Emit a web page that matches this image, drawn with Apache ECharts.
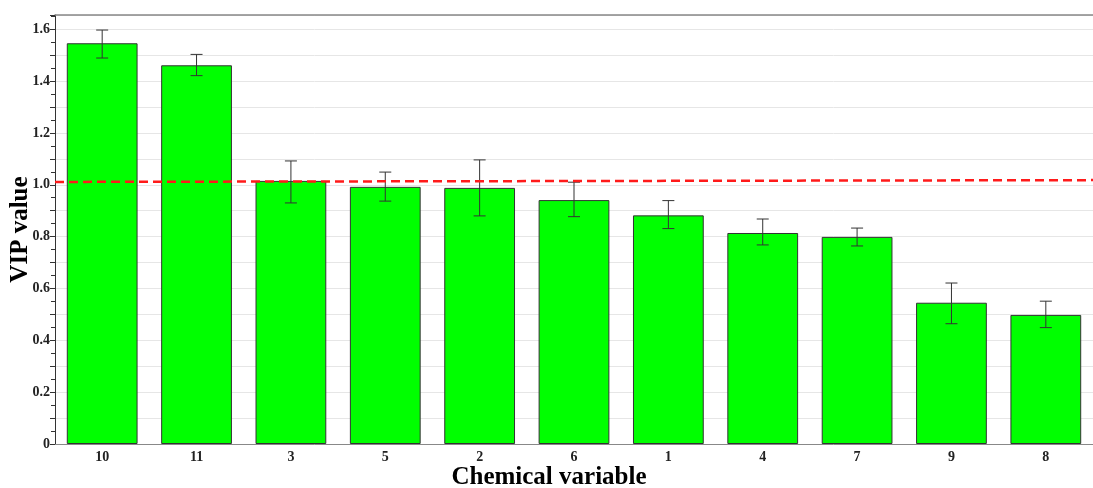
<!DOCTYPE html>
<html><head><meta charset="utf-8">
<script src="https://cdn.jsdelivr.net/npm/echarts@6/dist/echarts.min.js"></script>
<style>html,body{margin:0;padding:0;background:#fff}#c{width:1093px;height:488px}</style>
</head><body><div id="c"></div>
<script>
const categories = ['10','11','3','5','2','6','1','4','7','9','8'];
const vipValues = [1.546, 1.461, 1.015, 0.992, 0.988, 0.941, 0.882, 0.814, 0.799, 0.545, 0.498];
const errLow =  [1.489, 1.421, 0.930, 0.937, 0.880, 0.877, 0.831, 0.768, 0.764, 0.464, 0.449];
const errHigh = [1.597, 1.503, 1.092, 1.049, 1.096, 1.010, 0.939, 0.868, 0.833, 0.621, 0.551];
const thresholdLine = [[0, 1.011], [1, 1.018]];
const yMax = 1.655;

const serif = 'Liberation Serif, Times New Roman, serif';
const chart = echarts.init(document.getElementById('c'), null, {renderer: 'canvas'});
const errData = categories.map((c, i) => [i, errLow[i], errHigh[i]]);

chart.setOption({
  animation: false,
  grid: {left: 55, right: 0, top: 15, bottom: 44, containLabel: false, outerBoundsMode: 'none'},
  xAxis: [{
    type: 'category', data: categories, boundaryGap: true,
    name: 'Chemical variable', nameLocation: 'middle', nameGap: 21, nameMoveOverlap: false,
    nameTextStyle: {fontFamily: serif, fontWeight: 'bold', fontSize: 25, color: '#000', padding: [0, 50, 0, 0]},
    axisLine: {lineStyle: {color: '#888', width: 1}},
    axisTick: {alignWithLabel: true, length: 4, lineStyle: {color: '#555'}},
    axisLabel: {fontFamily: serif, fontWeight: 'bold', fontSize: 14, color: '#222', margin: 6},
    splitLine: {show: false}
  }, {
    type: 'value', min: 0, max: 1, position: 'top', show: true,
    axisLine: {show: true, onZero: false, lineStyle: {color: '#888', width: 1.5}},
    axisTick: {show: false}, axisLabel: {show: false}, splitLine: {show: false}
  }],
  yAxis: {
    type: 'value', min: 0, max: yMax, interval: 0.1,
    name: 'VIP value', nameLocation: 'middle', nameGap: 22, nameRotate: 90, nameMoveOverlap: false,
    nameTextStyle: {fontFamily: serif, fontWeight: 'bold', fontSize: 25, color: '#000'},
    axisLine: {show: true, lineStyle: {color: '#333', width: 1}},
    axisTick: {show: true, length: 5, lineStyle: {color: '#333'}},
    minorTick: {show: true, splitNumber: 2, length: 4, lineStyle: {color: '#333'}},
    axisLabel: {
      fontFamily: serif, fontWeight: 'bold', fontSize: 14, color: '#222', margin: 5,
      formatter: v => {
        const k = Math.round(v * 10);
        if (Math.abs(v * 10 - k) > 1e-6 || k % 2 !== 0) return '';
        return k === 0 ? '0' : (k / 10).toFixed(1);
      }
    },
    splitLine: {show: true, lineStyle: {color: '#e6e6e6', width: 1}}
  },
  series: [{
    type: 'bar', data: vipValues, barWidth: '75%', xAxisIndex: 0,
    itemStyle: {color: '#00ff00', borderColor: '#333', borderWidth: 1}
  }, {
    type: 'custom', xAxisIndex: 0, data: errData, z: 5,
    encode: {x: 0, y: [1, 2]},
    renderItem: (params, api) => {
      const lo = api.coord([api.value(0), api.value(1)]);
      const hi = api.coord([api.value(0), api.value(2)]);
      const hw = 6;
      const st = {stroke: '#333', lineWidth: 1};
      return {type: 'group', children: [
        {type: 'line', shape: {x1: lo[0], y1: lo[1], x2: hi[0], y2: hi[1]}, style: st},
        {type: 'line', shape: {x1: lo[0]-hw, y1: lo[1], x2: lo[0]+hw, y2: lo[1]}, style: st},
        {type: 'line', shape: {x1: hi[0]-hw, y1: hi[1], x2: hi[0]+hw, y2: hi[1]}, style: st}
      ]};
    }
  }, {
    type: 'line', xAxisIndex: 1, data: thresholdLine, symbol: 'none', z: 6,
    lineStyle: {color: '#ff1a1a', width: 2.5, type: [9, 5]}
  }]
});
</script></body></html>
